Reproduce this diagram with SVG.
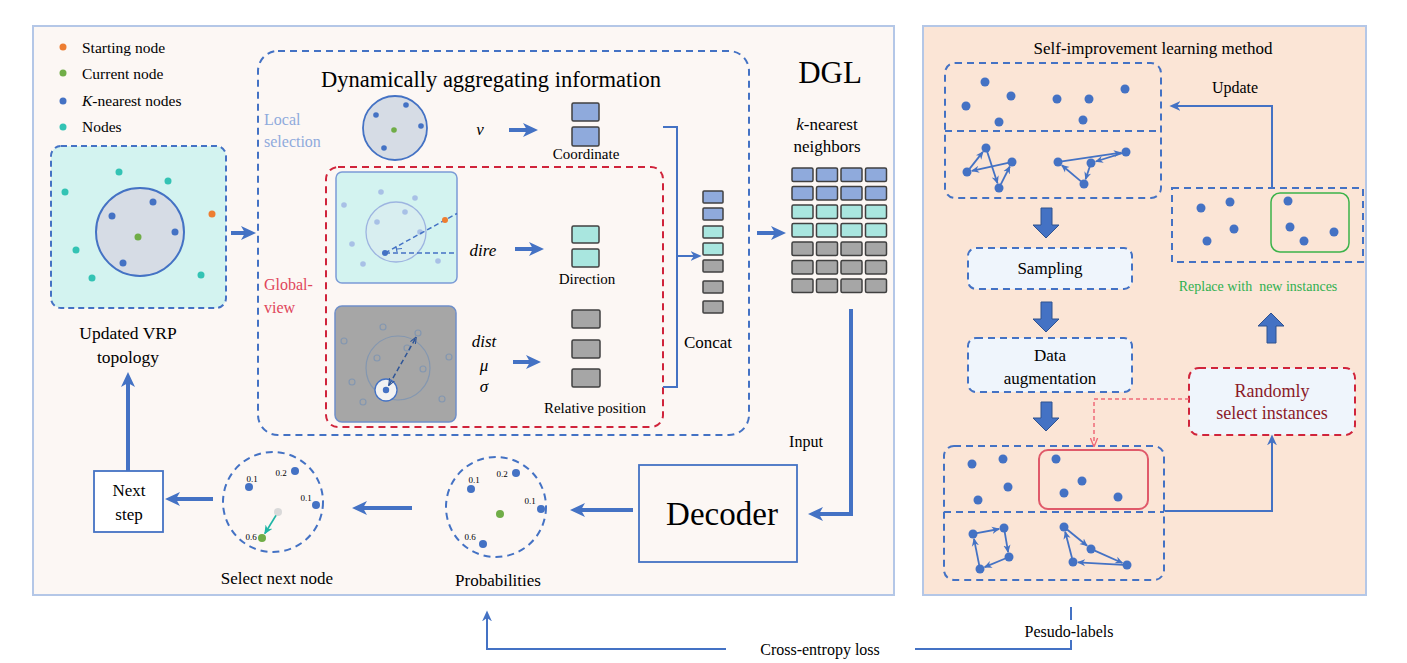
<svg xmlns="http://www.w3.org/2000/svg" width="1407" height="663" viewBox="0 0 1407 663">
<defs>
<style>
text{font-family:Liberation Serif, Times New Roman, Tinos, DejaVu Serif, Noto Serif, serif}
.m{text-anchor:middle}
.i{font-style:italic}
.cl{fill:#8faadc}
.cr{fill:#e0455a}
.cg{fill:#2fb050}
.cd{fill:#8b1a28}
.dash{fill:none;stroke:#4472c4;stroke-width:2;stroke-dasharray:7 5}
.rdash{fill:none;stroke:#d0243b;stroke-width:2;stroke-dasharray:7 5}
.thick{fill:none;stroke:#4472c4;stroke-width:4}
.thin{fill:none;stroke:#4472c4;stroke-width:2}
.rt{fill:none;stroke:#4472c4;stroke-width:1.8}
.b{fill:#4472c4}
.tl{fill:#33c3b4}
.lb{fill:#a8c0e6}
.hg{fill:none;stroke:#8497b0;stroke-width:1.2}
.cB{fill:#8faadc;stroke:#404040;stroke-width:1.5}
.cC{fill:#a9e6df;stroke:#404040;stroke-width:1.5}
.cG{fill:#a6a6a6;stroke:#404040;stroke-width:1.5}
.blk{fill:#4472c4;stroke:#2f528f;stroke-width:1}
.pr{font-size:9px}
</style>
<marker id="ah" viewBox="0 0 16 16" markerWidth="16" markerHeight="16" refX="6" refY="8" orient="auto" markerUnits="userSpaceOnUse"><path d="M0,1 L15,8 L0,15 L4,8 z" fill="#4472c4"/></marker>
<marker id="as" viewBox="0 0 10 10" markerWidth="11" markerHeight="11" refX="4" refY="5" orient="auto" markerUnits="userSpaceOnUse"><path d="M0,0.5 L10,5 L0,9.5 L3,5 z" fill="#4472c4"/></marker>
<marker id="ar" viewBox="0 0 10 10" markerWidth="8" markerHeight="8" refX="9" refY="5" orient="auto" markerUnits="userSpaceOnUse"><path d="M0,0.5 L10,5 L0,9.5 L3,5 z" fill="#4472c4"/></marker>
<marker id="ard" viewBox="0 0 10 10" markerWidth="7" markerHeight="7" refX="9" refY="5" orient="auto-start-reverse" markerUnits="userSpaceOnUse"><path d="M0,1 L10,5 L0,9" fill="none" stroke="#2f5597" stroke-width="1.6"/></marker>
<marker id="art" viewBox="0 0 10 10" markerWidth="9" markerHeight="9" refX="9" refY="5" orient="auto" markerUnits="userSpaceOnUse"><path d="M0,0.5 L10,5 L0,9.5 L3,5 z" fill="#1fb5a5"/></marker>
<marker id="arr" viewBox="0 0 10 10" markerWidth="9" markerHeight="9" refX="9" refY="5" orient="auto" markerUnits="userSpaceOnUse"><path d="M0,1 L10,5 L0,9" fill="none" stroke="#f06a78" stroke-width="1.5"/></marker>
</defs>

<!-- panels -->
<g id="left-panel"><rect x="33" y="26" width="861" height="569" fill="#fcf7f4" stroke="#b4c7e7" stroke-width="2"/></g>
<g id="right-panel"><rect x="923" y="26" width="443" height="569" fill="#fbe5d6" stroke="#b4c7e7" stroke-width="2"/></g>

<!-- legend -->
<g id="legend">
<circle cx="63" cy="47" r="3.5" fill="#ed7d31"/>
<circle cx="63" cy="73" r="3.5" fill="#70ad47"/>
<circle cx="63" cy="101" r="3.5" class="b"/>
<circle cx="63" cy="127" r="3.5" class="tl"/>
<text x="82" y="53" font-size="15.5">Starting node</text>
<text x="82" y="79" font-size="15.5">Current node</text>
<text x="82" y="106" font-size="15.5"><tspan class="i">K</tspan>-nearest nodes</text>
<text x="82" y="132" font-size="15.5">Nodes</text>
</g>

<!-- updated VRP topology -->
<g id="vrp-topology">
<rect x="51" y="146" width="175" height="162" rx="10" fill="#d3f3f0" stroke="#4472c4" stroke-width="2" stroke-dasharray="6 4"/>
<circle cx="140" cy="232" r="44" fill="#d6dce5" stroke="#4472c4" stroke-width="2"/>
<circle cx="119" cy="172" r="3.5" class="tl"/>
<circle cx="168" cy="181" r="3.5" class="tl"/>
<circle cx="65" cy="192" r="3.5" class="tl"/>
<circle cx="76" cy="250" r="3.5" class="tl"/>
<circle cx="92" cy="278" r="3.5" class="tl"/>
<circle cx="201" cy="275" r="3.5" class="tl"/>
<circle cx="212" cy="214" r="3.5" fill="#ed7d31"/>
<circle cx="153" cy="202" r="3.5" class="b"/>
<circle cx="112" cy="216" r="3.5" class="b"/>
<circle cx="175" cy="232" r="3.5" class="b"/>
<circle cx="123" cy="263" r="3.5" class="b"/>
<circle cx="138" cy="237" r="3.5" fill="#70ad47"/>
<text x="128" y="339" class="m" font-size="17.5">Updated VRP</text>
<text x="128" y="363" class="m" font-size="17.5">topology</text>
</g>

<!-- dynamic aggregation block -->
<g id="dynamic-aggregation">
<rect x="258" y="51" width="491" height="384" rx="20" class="dash"/>
<text x="491" y="87" class="m" font-size="22.5">Dynamically aggregating information</text>
<text x="264" y="125" font-size="16" class="cl">Local</text>
<text x="264" y="147" font-size="16" class="cl">selection</text>
<text x="264" y="290" font-size="16" class="cr">Global-</text>
<text x="264" y="313" font-size="16" class="cr">view</text>
</g>

<g id="local-selection">
<circle cx="395" cy="128" r="32" fill="#d6dce5" stroke="#4472c4" stroke-width="1.8"/>
<circle cx="376" cy="115" r="2.8" class="b"/>
<circle cx="406" cy="105" r="2.8" class="b"/>
<circle cx="421" cy="126" r="2.8" class="b"/>
<circle cx="384" cy="148" r="2.8" class="b"/>
<circle cx="394" cy="130" r="2.8" fill="#70ad47"/>
<text x="480" y="135" class="m i" font-size="17">v</text>
<rect x="572" y="103" width="27" height="18" rx="1.5" class="cB"/>
<rect x="572" y="127" width="27" height="19" rx="1.5" class="cB"/>
<text x="586" y="159" class="m" font-size="15">Coordinate</text>
</g>

<g id="global-view">
<rect x="326" y="167" width="337" height="260" rx="12" class="rdash"/>
</g>

<g id="direction">
<rect x="336" y="172" width="121" height="111" rx="6" fill="#d3f3f0" stroke="#7b9bd6" stroke-width="1.5"/>
<circle cx="396" cy="232" r="30" fill="#d8eef0" stroke="#9db4e0" stroke-width="1.3"/>
<circle cx="344" cy="205" r="2.8" class="lb"/>
<circle cx="381" cy="192" r="2.8" class="lb"/>
<circle cx="415" cy="198" r="2.8" class="lb"/>
<circle cx="405" cy="212" r="2.8" class="lb"/>
<circle cx="377" cy="222" r="2.8" class="lb"/>
<circle cx="352" cy="244" r="2.8" class="lb"/>
<circle cx="420" cy="232" r="2.8" class="lb"/>
<circle cx="363" cy="264" r="2.8" class="lb"/>
<circle cx="438" cy="261" r="2.8" class="lb"/>
<path d="M385,253 L457,213.5" fill="none" stroke="#4472c4" stroke-width="1.5" stroke-dasharray="5 3"/>
<path d="M385,253 L456,253" fill="none" stroke="#4472c4" stroke-width="1.5" stroke-dasharray="5 3"/>
<path d="M396,246.5 L397,252 M397,249 L402,248.5" fill="none" stroke="#4472c4" stroke-width="1.2"/>
<circle cx="445" cy="220" r="3" fill="#ed7d31"/>
<circle cx="385" cy="253" r="3" class="b"/>
<text x="483" y="256" class="m i" font-size="17">dire</text>
<rect x="572" y="226" width="27" height="17" rx="1.5" class="cC"/>
<rect x="572" y="249" width="27" height="18" rx="1.5" class="cC"/>
<text x="587" y="284" class="m" font-size="15">Direction</text>
</g>

<g id="relative-position">
<rect x="335" y="306" width="121" height="116" rx="7" fill="#a6a6a6" stroke="#6f8fc9" stroke-width="1.5"/>
<circle cx="398" cy="368" r="32" class="hg"/>
<circle cx="344" cy="341" r="3" class="hg"/>
<circle cx="383" cy="327" r="3" class="hg"/>
<circle cx="418" cy="333" r="3" class="hg"/>
<circle cx="407" cy="348" r="3" class="hg"/>
<circle cx="377" cy="358" r="3" class="hg"/>
<circle cx="423" cy="369" r="3" class="hg"/>
<circle cx="449" cy="357" r="3" class="hg"/>
<circle cx="352" cy="382" r="3" class="hg"/>
<circle cx="363" cy="402" r="3" class="hg"/>
<circle cx="442" cy="399" r="3" class="hg"/>
<circle cx="386" cy="390" r="11" fill="#f2f2f2" stroke="#4472c4" stroke-width="1.3"/>
<circle cx="386" cy="390" r="3.2" class="b"/>
<path d="M389,385 L416,337.5" fill="none" stroke="#2f5597" stroke-width="1.5" stroke-dasharray="5 3" marker-start="url(#ard)" marker-end="url(#ard)"/>
<text x="484" y="347" class="m i" font-size="17">dist</text>
<text x="484" y="371" class="m i" font-size="17">μ</text>
<text x="484" y="392" class="m i" font-size="17">σ</text>
<rect x="572" y="310" width="28" height="18" rx="1.5" class="cG"/>
<rect x="572" y="340" width="28" height="18" rx="1.5" class="cG"/>
<rect x="572" y="369" width="28" height="18" rx="1.5" class="cG"/>
<text x="595" y="413" class="m" font-size="15">Relative position</text>
</g>

<g id="concat">
<rect x="703" y="191" width="20" height="12" rx="1" class="cB"/>
<rect x="703" y="208" width="20" height="12" rx="1" class="cB"/>
<rect x="703" y="226" width="20" height="12" rx="1" class="cC"/>
<rect x="703" y="243" width="20" height="12" rx="1" class="cC"/>
<rect x="703" y="260" width="20" height="12" rx="1" class="cG"/>
<rect x="703" y="281" width="20" height="12" rx="1" class="cG"/>
<rect x="703" y="301" width="20" height="12" rx="1" class="cG"/>
<text x="708" y="348" class="m" font-size="17">Concat</text>
</g>

<g id="dgl">
<text x="830" y="83" class="m" font-size="31">DGL</text>
<text x="827" y="130" class="m" font-size="17"><tspan class="i">k</tspan>-nearest</text>
<text x="827" y="152" class="m" font-size="17">neighbors</text>
<g>
<rect x="792" y="168" width="21" height="13.5" rx="1.5" class="cB"/><rect x="816.5" y="168" width="21" height="13.5" rx="1.5" class="cB"/><rect x="841" y="168" width="21" height="13.5" rx="1.5" class="cB"/><rect x="865.5" y="168" width="21" height="13.5" rx="1.5" class="cB"/>
<rect x="792" y="186.5" width="21" height="13.5" rx="1.5" class="cB"/><rect x="816.5" y="186.5" width="21" height="13.5" rx="1.5" class="cB"/><rect x="841" y="186.5" width="21" height="13.5" rx="1.5" class="cB"/><rect x="865.5" y="186.5" width="21" height="13.5" rx="1.5" class="cB"/>
<rect x="792" y="205" width="21" height="13.5" rx="1.5" class="cC"/><rect x="816.5" y="205" width="21" height="13.5" rx="1.5" class="cC"/><rect x="841" y="205" width="21" height="13.5" rx="1.5" class="cC"/><rect x="865.5" y="205" width="21" height="13.5" rx="1.5" class="cC"/>
<rect x="792" y="223.5" width="21" height="13.5" rx="1.5" class="cC"/><rect x="816.5" y="223.5" width="21" height="13.5" rx="1.5" class="cC"/><rect x="841" y="223.5" width="21" height="13.5" rx="1.5" class="cC"/><rect x="865.5" y="223.5" width="21" height="13.5" rx="1.5" class="cC"/>
<rect x="792" y="242" width="21" height="13.5" rx="1.5" class="cG"/><rect x="816.5" y="242" width="21" height="13.5" rx="1.5" class="cG"/><rect x="841" y="242" width="21" height="13.5" rx="1.5" class="cG"/><rect x="865.5" y="242" width="21" height="13.5" rx="1.5" class="cG"/>
<rect x="792" y="260.5" width="21" height="13.5" rx="1.5" class="cG"/><rect x="816.5" y="260.5" width="21" height="13.5" rx="1.5" class="cG"/><rect x="841" y="260.5" width="21" height="13.5" rx="1.5" class="cG"/><rect x="865.5" y="260.5" width="21" height="13.5" rx="1.5" class="cG"/>
<rect x="792" y="279" width="21" height="13.5" rx="1.5" class="cG"/><rect x="816.5" y="279" width="21" height="13.5" rx="1.5" class="cG"/><rect x="841" y="279" width="21" height="13.5" rx="1.5" class="cG"/><rect x="865.5" y="279" width="21" height="13.5" rx="1.5" class="cG"/>
</g>
<text x="806" y="447" class="m" font-size="16">Input</text>
</g>

<g id="decoder">
<rect x="639" y="465" width="158" height="97" fill="none" stroke="#4472c4" stroke-width="1.8"/>
<text x="722" y="525" class="m" font-size="33">Decoder</text>
</g>

<g id="probabilities">
<circle cx="496" cy="507" r="50" class="dash"/>
<circle cx="471" cy="489" r="4" class="b"/>
<circle cx="516" cy="473" r="4" class="b"/>
<circle cx="541" cy="509" r="4" class="b"/>
<circle cx="483" cy="544" r="4" class="b"/>
<circle cx="500" cy="514" r="4" fill="#70ad47"/>
<text x="474" y="483" class="m pr">0.1</text>
<text x="502" y="477" class="m pr">0.2</text>
<text x="530" y="504" class="m pr">0.1</text>
<text x="470" y="540" class="m pr">0.6</text>
<text x="498" y="586" class="m" font-size="17">Probabilities</text>
</g>

<g id="select-next-node">
<circle cx="273" cy="502" r="50" class="dash"/>
<circle cx="249" cy="487" r="4" class="b"/>
<circle cx="295" cy="471" r="4" class="b"/>
<circle cx="316" cy="505" r="4" class="b"/>
<circle cx="278" cy="512" r="4" fill="#d9d9d9"/>
<circle cx="262" cy="538" r="4" fill="#70ad47"/>
<path d="M276,515.4 L264.8,533.6" fill="none" stroke="#1fb5a5" stroke-width="1.8" marker-end="url(#art)"/>
<text x="252" y="482" class="m pr">0.1</text>
<text x="281" y="476" class="m pr">0.2</text>
<text x="306" y="501" class="m pr">0.1</text>
<text x="251" y="540" class="m pr">0.6</text>
<text x="277" y="584" class="m" font-size="17">Select next node</text>
</g>

<g id="next-step">
<rect x="94" y="471" width="69" height="61" fill="#ffffff" stroke="#4472c4" stroke-width="1.8"/>
<text x="129" y="496" class="m" font-size="17">Next</text>
<text x="129" y="520" class="m" font-size="17">step</text>
</g>

<!-- right panel nodes -->
<g id="self-improvement-title">
<text x="1153" y="54" class="m" font-size="17">Self-improvement learning method</text>
</g>

<g id="solutions-top">
<rect x="945" y="63" width="216" height="135" rx="10" class="dash"/>
<line x1="945" y1="131" x2="1161" y2="131" stroke="#4472c4" stroke-width="2" stroke-dasharray="7 5"/>
<circle cx="985" cy="82" r="4.5" class="b"/><circle cx="1011" cy="96" r="4.5" class="b"/><circle cx="966" cy="106" r="4.5" class="b"/><circle cx="999" cy="122" r="4.5" class="b"/>
<circle cx="1057" cy="99" r="4.5" class="b"/><circle cx="1089" cy="99" r="4.5" class="b"/><circle cx="1125" cy="89" r="4.5" class="b"/><circle cx="1083" cy="120" r="4.5" class="b"/>
<circle cx="967" cy="172" r="4.5" class="b"/><circle cx="986" cy="148" r="4.5" class="b"/><circle cx="999" cy="188" r="4.5" class="b"/><circle cx="1012" cy="162" r="4.5" class="b"/>
<path d="M969.5,168.9 L982.9,151.9" class="rt" marker-end="url(#ar)"/>
<path d="M987.2,151.8 L997.5,183.2" class="rt" marker-end="url(#ar)"/>
<path d="M1000.8,184.4 L1009.8,166.5" class="rt" marker-end="url(#ar)"/>
<path d="M1008.1,162.9 L971.9,170.9" class="rt" marker-end="url(#ar)"/>
<circle cx="1058" cy="162" r="4.5" class="b"/><circle cx="1126" cy="152" r="4.5" class="b"/><circle cx="1091" cy="163" r="4.5" class="b"/><circle cx="1084" cy="184" r="4.5" class="b"/>
<path d="M1062,161.4 L1121,152.7" class="rt" marker-end="url(#ar)"/>
<path d="M1122.2,153.2 L1095.8,161.5" class="rt" marker-end="url(#ar)"/>
<path d="M1089.7,166.8 L1085.6,179.3" class="rt" marker-end="url(#ar)"/>
<path d="M1081,181.4 L1061.8,165.2" class="rt" marker-end="url(#ar)"/>
</g>

<g id="sampling">
<rect x="968" y="248" width="164" height="41" rx="8" fill="#eff5fc" stroke="#4472c4" stroke-width="2" stroke-dasharray="7 5"/>
<text x="1050" y="274" class="m" font-size="17">Sampling</text>
</g>

<g id="data-augmentation">
<rect x="968" y="338" width="164" height="54" rx="8" fill="#eff5fc" stroke="#4472c4" stroke-width="2" stroke-dasharray="7 5"/>
<text x="1050" y="361" class="m" font-size="17">Data</text>
<text x="1050" y="384" class="m" font-size="17">augmentation</text>
</g>

<g id="augmented-instances">
<rect x="944" y="446" width="220" height="134" rx="10" class="dash"/>
<line x1="944" y1="512" x2="1164" y2="512" stroke="#4472c4" stroke-width="2" stroke-dasharray="7 5"/>
<rect x="1039" y="450" width="109" height="59" rx="9" fill="none" stroke="#e05a6a" stroke-width="2"/>
<circle cx="972" cy="464" r="4.5" class="b"/><circle cx="1003" cy="459" r="4.5" class="b"/><circle cx="1008" cy="487" r="4.5" class="b"/><circle cx="978" cy="500" r="4.5" class="b"/>
<circle cx="1056" cy="459" r="4.5" class="b"/><circle cx="1082" cy="481" r="4.5" class="b"/><circle cx="1064" cy="493" r="4.5" class="b"/><circle cx="1118" cy="497" r="4.5" class="b"/>
<circle cx="973" cy="534" r="4.5" class="b"/><circle cx="1004" cy="528" r="4.5" class="b"/><circle cx="1009" cy="557" r="4.5" class="b"/><circle cx="980" cy="569" r="4.5" class="b"/>
<path d="M976.9,533.2 L999.1,529" class="rt" marker-end="url(#ar)"/>
<path d="M1004.7,531.9 L1008.1,552.1" class="rt" marker-end="url(#ar)"/>
<path d="M1005.3,558.5 L984.6,567.1" class="rt" marker-end="url(#ar)"/>
<path d="M979.2,565.1 L974,538.9" class="rt" marker-end="url(#ar)"/>
<circle cx="1064" cy="527" r="4.5" class="b"/><circle cx="1091" cy="549" r="4.5" class="b"/><circle cx="1127" cy="565" r="4.5" class="b"/><circle cx="1073" cy="562" r="4.5" class="b"/>
<path d="M1067.1,529.5 L1087.1,545.8" class="rt" marker-end="url(#ar)"/>
<path d="M1094.7,550.6 L1122.4,563" class="rt" marker-end="url(#ar)"/>
<path d="M1123,564.8 L1078,562.3" class="rt" marker-end="url(#ar)"/>
<path d="M1072,558.1 L1065.2,531.8" class="rt" marker-end="url(#ar)"/>
</g>

<g id="randomly-select">
<rect x="1189" y="368" width="166" height="67" rx="10" fill="#eff5fc" stroke="#d0243b" stroke-width="2" stroke-dasharray="7 5"/>
<text x="1272" y="397" class="m cd" font-size="18">Randomly</text>
<text x="1272" y="419" class="m cd" font-size="18">select instances</text>
</g>

<g id="replace-new-instances">
<rect x="1172" y="188" width="191" height="74" class="dash"/>
<rect x="1271" y="193" width="78" height="59" rx="9" fill="none" stroke="#3cb34a" stroke-width="1.5"/>
<circle cx="1201" cy="208" r="4.5" class="b"/><circle cx="1230" cy="202" r="4.5" class="b"/><circle cx="1234" cy="229" r="4.5" class="b"/><circle cx="1207" cy="241" r="4.5" class="b"/>
<circle cx="1288" cy="201" r="4.5" class="b"/><circle cx="1290" cy="227" r="4.5" class="b"/><circle cx="1304" cy="241" r="4.5" class="b"/><circle cx="1334" cy="232" r="4.5" class="b"/>
<text x="1258" y="291" class="m cg" font-size="14" xml:space="preserve">Replace with  new instances</text>
</g>

<g id="labels-bottom">
<text x="820" y="655" class="m" font-size="16">Cross-entropy loss</text>
<text x="1069" y="637" class="m" font-size="16">Pesudo-labels</text>
<text x="1235" y="93" class="m" font-size="16">Update</text>
</g>

<!-- connectors -->
<g id="connectors">
<line x1="231" y1="233" x2="247" y2="233" class="thick" marker-end="url(#ah)"/>
<line x1="509" y1="130" x2="529" y2="130" class="thick" marker-end="url(#ah)"/>
<line x1="515" y1="249" x2="535" y2="249" class="thick" marker-end="url(#ah)"/>
<line x1="513" y1="362" x2="532" y2="362" class="thick" marker-end="url(#ah)"/>
<path d="M663,127 H677 V387 H663" class="thin"/>
<line x1="677" y1="256" x2="695" y2="256" class="thin" marker-end="url(#as)"/>
<line x1="757" y1="233" x2="777" y2="233" class="thick" marker-end="url(#ah)"/>
<path d="M851,309 V514 H817" class="thick" marker-end="url(#ah)"/>
<line x1="633" y1="510" x2="579" y2="510" class="thick" marker-end="url(#ah)"/>
<line x1="412" y1="508" x2="361" y2="508" class="thick" marker-end="url(#ah)"/>
<line x1="213" y1="499" x2="174" y2="499" class="thick" marker-end="url(#ah)"/>
<line x1="128" y1="471" x2="128" y2="381" class="thick" marker-end="url(#ah)"/>
<path d="M1272,188 V106 H1176" class="thin" marker-end="url(#as)"/>
<path d="M1165,511 H1272 V441" class="thin" marker-end="url(#as)"/>
<path d="M1189,399 H1094 V446" fill="none" stroke="#f06a78" stroke-width="1.5" stroke-dasharray="4 3" marker-end="url(#arr)"/>
<polygon points="1041,208 1052,208 1052,225 1059,225 1046,238 1033,225 1041,225" class="blk"/>
<polygon points="1041,302 1052,302 1052,319 1059,319 1046,332 1033,319 1041,319" class="blk"/>
<polygon points="1041,402 1052,402 1052,418 1059,418 1046,431 1033,418 1041,418" class="blk"/>
<polygon points="1267,343 1276,343 1276,326 1284,326 1271,313 1258,326 1267,326" class="blk"/>
<path d="M726,649 H487 V617" class="thin" marker-end="url(#as)"/>
<path d="M915,649 H1071 V640" class="thin"/>
<line x1="1071" y1="607" x2="1071" y2="620" class="thin"/>
</g>
</svg>
